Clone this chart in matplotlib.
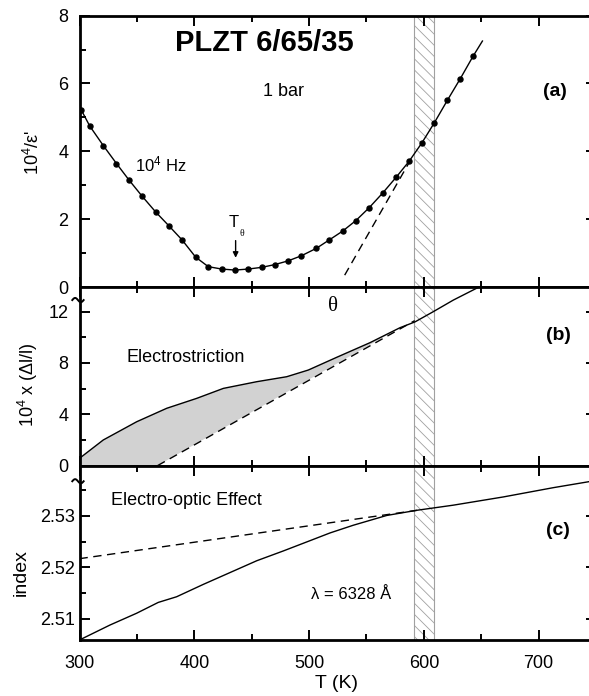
import matplotlib.pyplot as plt
import numpy as np
from matplotlib.ticker import MultipleLocator

plt.rcParams['font.family'] = ['Liberation Sans', 'DejaVu Sans']
plt.rcParams['mathtext.fontset'] = 'custom'
plt.rcParams['mathtext.rm'] = 'Liberation Sans'
plt.rcParams['mathtext.it'] = 'Liberation Sans:italic'
plt.rcParams['hatch.linewidth'] = 0.6

# (a) 10^4/eps' measured at 10^4 Hz
t_eps = [301.5, 309, 320.7, 332.2, 343.2, 354.7, 366.4, 377.7, 389.3, 401.2,
         412.2, 423.9, 435.5, 447, 458.7, 470, 481.6, 493.2, 506.3, 517.2,
         529.3, 540.8, 552.4, 564.1, 575.7, 587, 598.1, 609.1, 620.4, 631.7, 642.8]
inv_eps = [5.22, 4.74, 4.17, 3.64, 3.15, 2.67, 2.21, 1.81, 1.39, 0.88,
           0.60, 0.53, 0.50, 0.53, 0.58, 0.66, 0.77, 0.92, 1.14, 1.38,
           1.65, 1.96, 2.34, 2.77, 3.23, 3.70, 4.24, 4.84, 5.50, 6.14, 6.80]
t_eps_ends = [300, 651]
inv_eps_ends = [5.3, 7.25]
t_cw = [531, 588]          # Curie-Weiss extrapolation
inv_eps_cw = [0.35, 3.72]

# (b) electrostriction
t_strain = [300, 320.7, 349.8, 376, 402, 425.3, 454.3, 480.5, 499.3, 524,
            553, 579.2, 592.2, 608.2, 625.6, 648]
strain = [0.57, 2.0, 3.42, 4.47, 5.24, 6.02, 6.54, 6.93, 7.45, 8.44,
          9.58, 10.75, 11.2, 12.0, 12.9, 13.92]
t_strain_lin = [368, 592]
strain_lin = [0.0, 11.3]

# (c) refractive index, lambda = 6328 A
t_index = [300, 326.5, 349.8, 368.6, 384.6, 407.8, 431.1, 454.4, 477.5, 500.8,
           518.2, 538.5, 567.6, 593.7, 625.6, 669.2, 712.7, 750]
n_index = [2.5059, 2.5088, 2.5111, 2.5132, 2.5143, 2.5167, 2.5190, 2.5213, 2.5232, 2.5252,
           2.5267, 2.5282, 2.5301, 2.5311, 2.5321, 2.5337, 2.5355, 2.5369]
t_index_lin = [300, 594]
n_index_lin = [2.5217, 2.5311]

band = (591, 609)   # Burns temperature region

fig = plt.figure(figsize=(5.89, 6.96), dpi=100)
L, W = 0.135, 0.877
ax1 = fig.add_axes([L, 0.5876, W, 0.390])
ax2 = fig.add_axes([L, 0.331, W, 0.2566])
ax3 = fig.add_axes([L, 0.0805, W, 0.2506])

for ax in (ax1, ax2, ax3):
    ax.set_xlim(300, 750)
    ax.xaxis.set_major_locator(MultipleLocator(100))
    ax.xaxis.set_minor_locator(MultipleLocator(50))
    ax.tick_params(which='both', direction='in', top=True, right=True,
                   width=1.4, labelsize=13)
    ax.tick_params(which='major', length=7.5)
    ax.tick_params(which='minor', length=4.5)
    for s in ax.spines.values():
        s.set_linewidth(2)
    ax.axvspan(*band, facecolor='white', edgecolor='#a0a0a0', hatch='\\\\\\',
               linewidth=0.8, zorder=1)
for ax in (ax1, ax2):
    ax.tick_params(labelbottom=False, pad=8)
ax3.tick_params(axis='y', pad=3)
ax3.tick_params(axis='x', pad=11)

# (a)
ax1.plot(t_eps_ends[:1] + t_eps + t_eps_ends[1:],
         inv_eps_ends[:1] + inv_eps + inv_eps_ends[1:], color='black', lw=1, zorder=3)
ax1.plot(t_eps, inv_eps, 'o', color='black', ms=3.6, zorder=4)
ax1.plot(t_cw, inv_eps_cw, color='black', lw=1, linestyle=(0, (6, 4)), zorder=3)
ax1.set_ylim(0, 8)
ax1.yaxis.set_major_locator(MultipleLocator(2))
ax1.yaxis.set_minor_locator(MultipleLocator(1))
ax1.set_ylabel("10$^{4}$/ε'", fontsize=13)
ax1.yaxis.set_label_coords(-0.071, 0.494)
ax1.text(460.7, 7.2, 'PLZT 6/65/35', fontsize=21, fontweight='bold', ha='center', va='center')
ax1.text(478, 5.75, '1 bar', fontsize=13, ha='center', va='center')
ax1.text(371, 3.6, '10$^{4}$ Hz', fontsize=12, ha='center', va='center')
ax1.text(433.9, 1.89, 'T', fontsize=12, ha='center', va='center')
ax1.text(441.6, 1.58, 'θ', fontsize=7, ha='center', va='center', family='Liberation Serif')
ax1.annotate('', xy=(436, 0.78), xytext=(436, 1.45),
             arrowprops=dict(arrowstyle='-|>', color='black', lw=1, mutation_scale=8))
ax1.text(714, 5.75, '(a)', fontsize=14, fontweight='bold', ha='center', va='center')

# (b)
n_fill = 12
ax2.fill(t_strain[:n_fill] + [t_strain_lin[0], 300], strain[:n_fill] + [0, 0],
         color='#d2d2d2', lw=0, zorder=2)
ax2.plot(t_strain, strain, color='black', lw=1, zorder=3)
ax2.plot(t_strain_lin, strain_lin, color='black', lw=1, linestyle=(0, (6, 4)), zorder=3)
ax2.set_ylim(0, 13.92)
ax2.yaxis.set_major_locator(MultipleLocator(4))
ax2.yaxis.set_minor_locator(MultipleLocator(2))
ax2.set_ylabel('10$^{4}$ x (Δl/l)', fontsize=13)
ax2.yaxis.set_label_coords(-0.0765, 0.451)
ax2.text(520.8, 12.4, 'θ', fontsize=15, ha='center', va='center', family='Liberation Serif')
ax2.text(392.8, 8.46, 'Electrostriction', fontsize=13, ha='center', va='center')
ax2.text(716.8, 10.18, '(b)', fontsize=14, fontweight='bold', ha='center', va='center')

# (c)
ax3.plot(t_index, n_index, color='black', lw=1, zorder=3)
ax3.plot(t_index_lin, n_index_lin, color='black', lw=1, linestyle=(0, (6, 4)), zorder=3)
ax3.set_ylim(2.5059, 2.5398)
ax3.yaxis.set_major_locator(MultipleLocator(0.01))
ax3.yaxis.set_minor_locator(MultipleLocator(0.005))
ax3.set_ylabel('index', fontsize=14)
ax3.yaxis.set_label_coords(-0.096, 0.389)
ax3.set_xlabel('T (K)', fontsize=14)
ax3.xaxis.set_label_coords(0.498, -0.2)
ax3.text(392.8, 2.5331, 'Electro-optic Effect', fontsize=13, ha='center', va='center')
ax3.text(536.5, 2.5147, 'λ = 6328 Å', fontsize=12, ha='center', va='center')
ax3.text(716.8, 2.5272, '(c)', fontsize=14, fontweight='bold', ha='center', va='center')

# axis-break marks on the left spine
for ax, yb in ((ax2, 0.927), (ax3, 0.91)):
    xs = np.linspace(-0.014, 0.008, 20)
    ax.plot(xs, yb + 0.012 * np.sin((xs + 0.014) / 0.022 * 2 * np.pi),
            transform=ax.transAxes, color='black', lw=1.4, clip_on=False, zorder=5)

fig.savefig('out.png', dpi=100)
